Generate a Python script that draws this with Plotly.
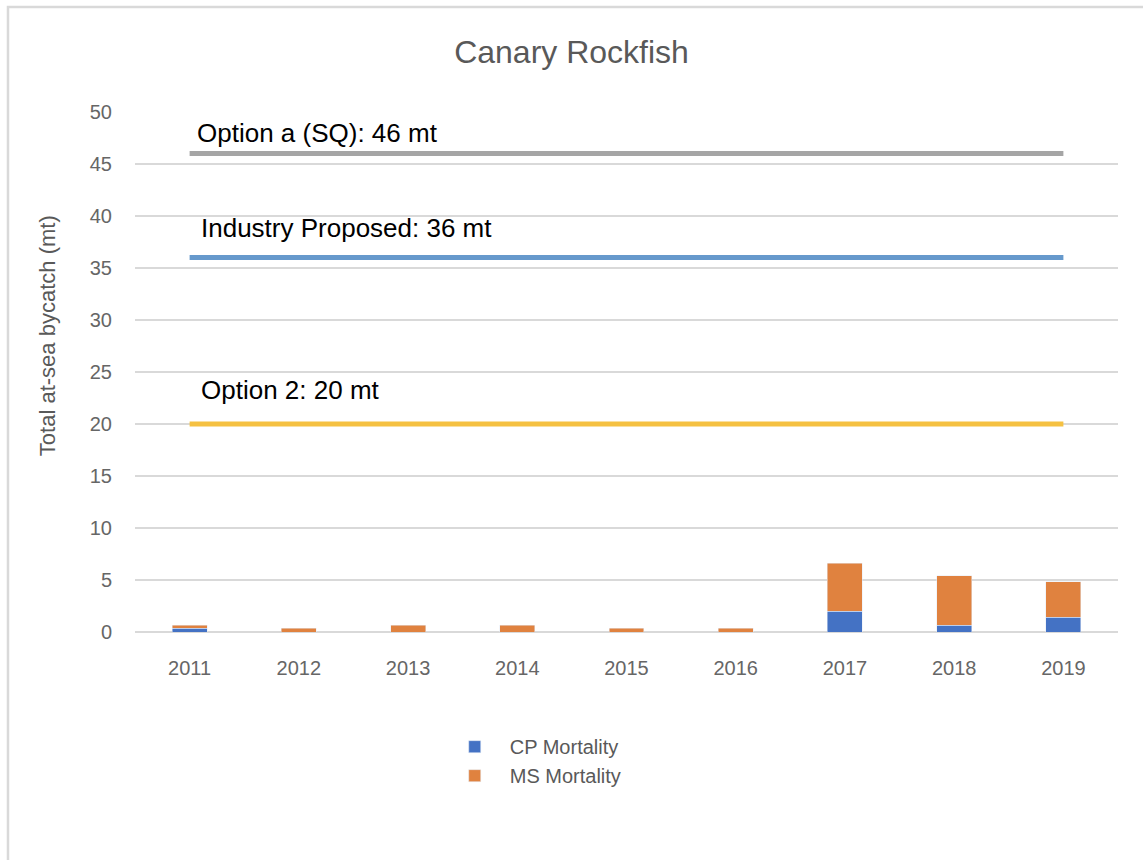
import plotly.graph_objects as go

# ----- Data -----
years = ["2011", "2012", "2013", "2014", "2015", "2016", "2017", "2018", "2019"]
cp_mortality = [0.35, 0.0, 0.0, 0.0, 0.0, 0.0, 2.0, 0.65, 1.43]
ms_mortality = [0.3, 0.35, 0.65, 0.65, 0.35, 0.35, 4.6, 4.77, 3.41]

limit_names = ["Option a (SQ): 46 mt", "Industry Proposed: 36 mt", "Option 2: 20 mt"]
limit_values = [46, 36, 20]
limit_colors = ["#A5A5A5", "#6699CC", "#F5C142"]
label_y = [48.0, 38.85, 23.3]
label_shift = [5, 9, 9]

fig = go.Figure()

# limit lines (drawn first so bars sit on top)
for name, val, col in zip(limit_names, limit_values, limit_colors):
    fig.add_trace(go.Scatter(x=years, y=[val] * len(years), mode="lines",
                             line=dict(color=col, width=5), showlegend=False,
                             hoverinfo="skip"))

fig.add_trace(go.Bar(x=years, y=cp_mortality, name="CP Mortality",
                     marker_color="#4472C4"))
fig.add_trace(go.Bar(x=years, y=ms_mortality, name="MS Mortality",
                     marker_color="#E0823F"))

for name, ly, sh in zip(limit_names, label_y, label_shift):
    fig.add_annotation(x=0, y=ly, xref="x", yref="y", text=name,
                       showarrow=False, xanchor="left", yanchor="middle",
                       xshift=sh,
                       font=dict(family="Liberation Sans", size=26, color="#000000"))

# y axis title as annotation
fig.add_annotation(x=-0.0895, y=0.569, xref="paper", yref="paper",
                   text="Total at-sea bycatch (mt)", textangle=-90,
                   showarrow=False, xanchor="center", yanchor="middle",
                   font=dict(size=22, color="#595959"))

# chart border
fig.add_shape(type="rect", xref="paper", yref="paper",
              x0=-0.1292, x1=1.05, y0=-0.6, y1=1.2019,
              line=dict(color="#D9D9D9", width=2.5), layer="below")

fig.update_layout(
    width=1143, height=860,
    barmode="stack", bargap=0.68,
    plot_bgcolor="white", paper_bgcolor="white",
    margin=dict(l=135, r=25, t=112, b=228),
    title=dict(text="Canary Rockfish", x=0.5, xanchor="center",
               y=1 - 52 / 860, yanchor="middle",
               font=dict(family="Liberation Sans", size=32, color="#595959")),
    font=dict(family="Liberation Sans", color="#595959", size=18),
    legend=dict(x=0.31, y=-0.183, xanchor="left", yanchor="top",
                orientation="v", traceorder="normal", itemwidth=60,
                font=dict(size=20, color="#595959")),
)
fig.update_xaxes(showgrid=False, showline=False, ticks="",
                 tickfont=dict(size=20, color="#666666"), range=[-0.5, 8.5],
                 ticklabelstandoff=22)
fig.update_yaxes(range=[0, 50], dtick=5, showgrid=True, gridcolor="#D9D9D9",
                 gridwidth=2, zeroline=True, zerolinecolor="#D9D9D9",
                 zerolinewidth=2, tickfont=dict(size=20, color="#666666"),
                 ticklabelstandoff=22)

fig.write_html("out.html", config={"displayModeBar": False},
               post_script="document.body.style.margin='0';")
